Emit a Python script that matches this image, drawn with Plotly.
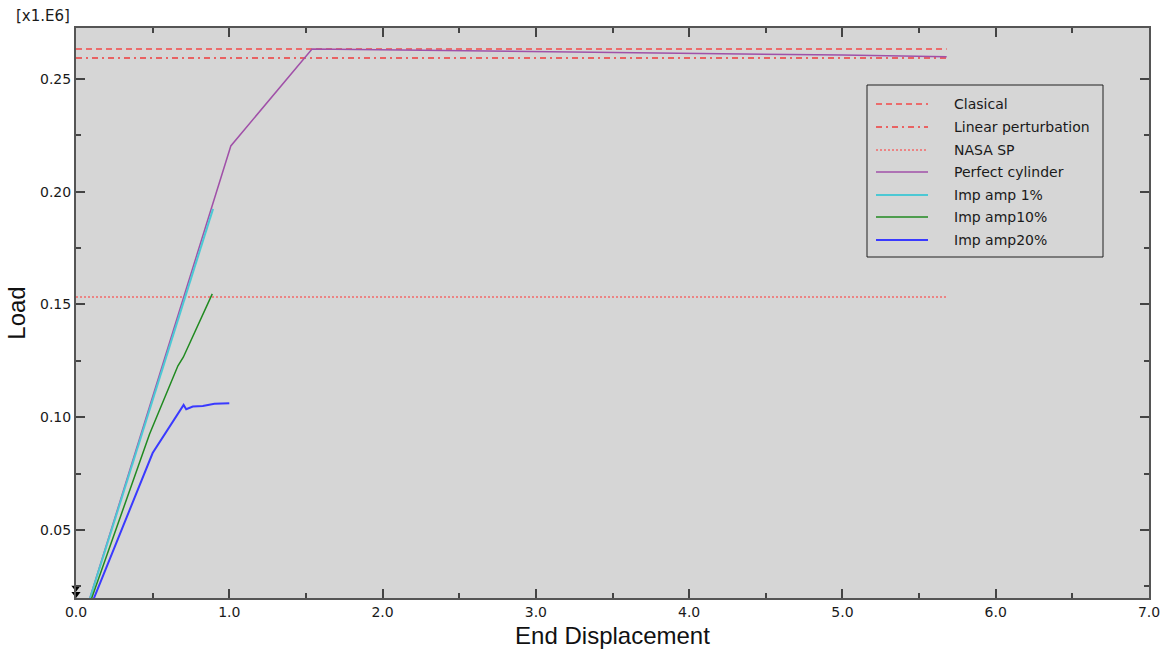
import plotly.graph_objects as go

# ---- data (load in x1.E6 units) ----
ref_x = [0.0, 5.68]
clasical_y = [0.2633, 0.2633]
linear_pert_y = [0.2593, 0.2593]
nasa_sp_y = [0.1533, 0.1533]

perfect_x = [0.0, 1.01, 1.54, 2.1, 3.0, 4.05, 5.0, 5.68]
perfect_y = [0.0, 0.2203, 0.2633, 0.2629, 0.2623, 0.2615, 0.2606, 0.2598]

imp1_x = [0.0, 0.894]
imp1_y = [0.0, 0.1924]

imp10_x = [0.0, 0.48, 0.665, 0.70, 0.889]
imp10_y = [0.0, 0.0925, 0.1228, 0.1266, 0.1547]

imp20_x = [0.0, 0.50, 0.702, 0.719, 0.762, 0.827, 0.903, 1.0]
imp20_y = [0.0, 0.0841, 0.1054, 0.1035, 0.1047, 0.1050, 0.1059, 0.1062]

marker_x = [0.0, 0.0]
marker_y = [0.0243, 0.0216]

names = ["Clasical", "Linear perturbation", "NASA SP", "Perfect cylinder",
         "Imp amp 1%", "Imp amp10%", "Imp amp20%"]
colors = ["#f24a4a", "#f03c3c", "#f46a6a", "#a050a8", "#4cc8d4", "#208a20", "#3a3aff"]
dashes = ["6px,4px", "6px,4px,2px,4px", "2px,2px", "solid", "solid", "solid", "solid"]
widths = [1.5, 1.5, 1.5, 1.5, 2, 1.5, 2]

series = [
    (ref_x, clasical_y),
    (ref_x, linear_pert_y),
    (ref_x, nasa_sp_y),
    (perfect_x, perfect_y),
    (imp1_x, imp1_y),
    (imp10_x, imp10_y),
    (imp20_x, imp20_y),
]

W, H = 1165, 653
L, R, T, B = 76, 1149, 28, 598


def px(xp):
    return (xp - L) / (R - L)


def py(yp):
    return (B - yp) / (B - T)


fig = go.Figure()
for (xs, ys), n, c, d, w in zip(series, names, colors, dashes, widths):
    fig.add_trace(go.Scatter(x=xs, y=ys, mode="lines", name=n,
                             line=dict(color=c, dash=d, width=w),
                             showlegend=False))

fig.add_trace(go.Scatter(x=marker_x, y=marker_y, mode="markers", showlegend=False,
                         marker=dict(symbol="triangle-down", size=8, color="black"),
                         cliponaxis=False, hoverinfo="skip"))

shapes = []
annotations = []
# legend box
shapes.append(dict(type="rect", xref="paper", yref="paper",
                   x0=px(867), x1=px(1103), y0=py(257), y1=py(85),
                   line=dict(color="#202020", width=1), fillcolor="#d6d6d6"))
row_y = [104, 127, 150, 172, 195, 217, 240]
for n, c, d, w, yy in zip(names, colors, dashes, widths, row_y):
    shapes.append(dict(type="line", xref="paper", yref="paper",
                       x0=px(876), x1=px(928), y0=py(yy), y1=py(yy),
                       line=dict(color=c, dash=d, width=w)))
    annotations.append(dict(xref="paper", yref="paper", x=px(952), y=py(yy),
                            text=n, showarrow=False, xanchor="left", yanchor="middle",
                            font=dict(family="DejaVu Sans", size=14, color="#1a1a1a")))

annotations.append(dict(xref="paper", yref="paper", x=px(14), y=py(15.5),
                        text="[x1.E6]", showarrow=False, xanchor="left", yanchor="middle",
                        font=dict(family="DejaVu Sans", size=15, color="#1a1a1a")))

axis_common = dict(showgrid=False, zeroline=False, showline=True, linecolor="#555555",
                   linewidth=2, mirror="allticks", ticks="inside", ticklen=9,
                   tickcolor="#444444", tickwidth=1.5, automargin=False,
                   tickfont=dict(family="DejaVu Sans", size=14, color="#1a1a1a"))

fig.update_layout(
    width=W, height=H,
    margin=dict(l=L, r=W - R, t=T, b=H - B),
    paper_bgcolor="white", plot_bgcolor="#d6d6d6",
    shapes=shapes, annotations=annotations,
    xaxis=dict(range=[0, 7], dtick=1, tickformat=".1f",
               minor=dict(dtick=0.5, ticks="inside", ticklen=5, tickcolor="#444444"),
               title=dict(text="End Displacement",
                          font=dict(family="Liberation Sans", size=24, color="#111111"),
                          standoff=8),
               **axis_common),
    yaxis=dict(range=[0.0198, 0.2726], tick0=0.0, dtick=0.05, tickformat=".2f",
               minor=dict(dtick=0.025, ticks="inside", ticklen=5, tickcolor="#444444"),
               title=dict(text="Load",
                          font=dict(family="Liberation Sans", size=24, color="#111111"),
                          standoff=8),
               **axis_common),
)

fig.write_html("out.html",
               config={"displayModeBar": False},
               post_script="document.body.style.margin='0px';document.body.style.overflow='hidden';")
